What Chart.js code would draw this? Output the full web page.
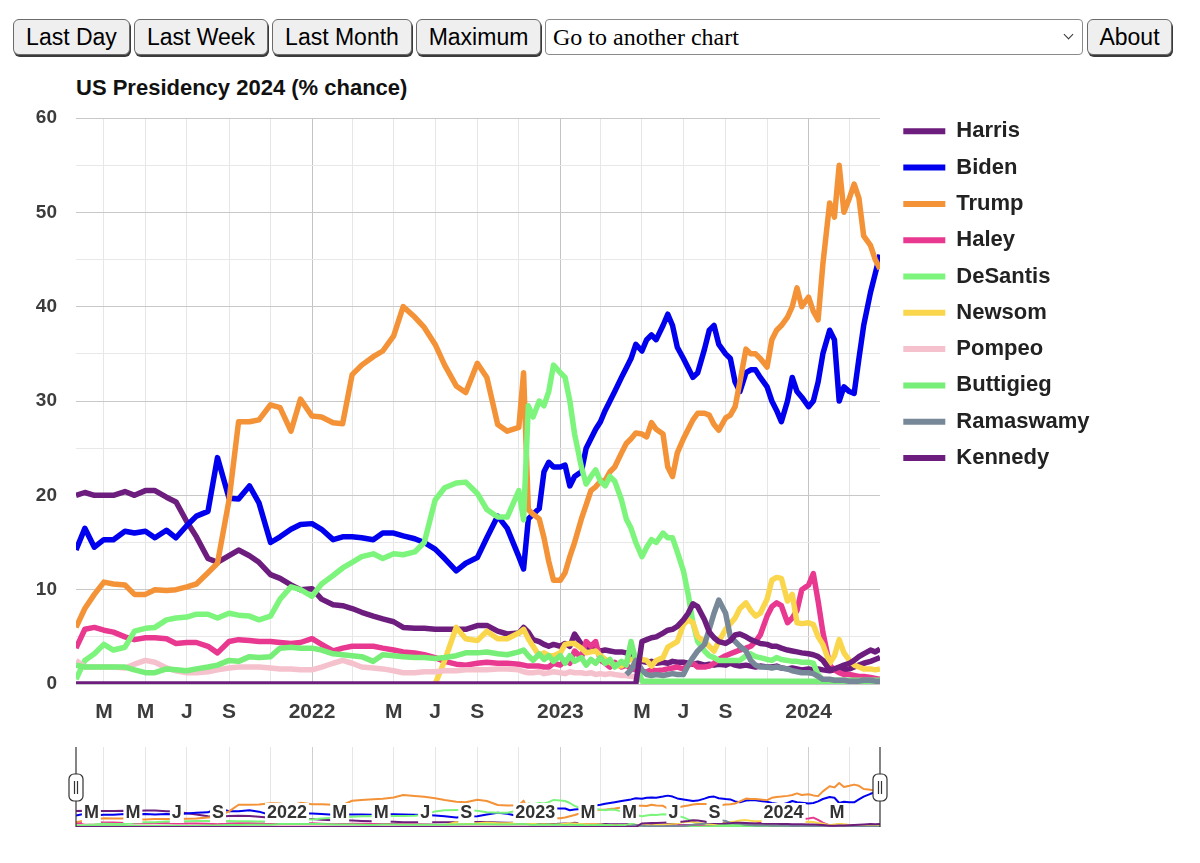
<!DOCTYPE html>
<html lang="en">
<head>
<meta charset="utf-8">
<title>US Presidency 2024 (% chance)</title>
<script src="https://cdn.jsdelivr.net/npm/chart.js@4.4.1/dist/chart.umd.min.js"></script>
<style>
  html, body { margin: 0; padding: 0; background: #fff; }
  body {
    position: relative; width: 1200px; height: 863px; overflow: hidden;
    font-family: "Liberation Sans", Arial, Helvetica, sans-serif;
  }
  .btn {
    position: absolute; top: 19px; height: 36px; box-sizing: border-box;
    background: #efefef; border: 1.5px solid #6b6b6b; border-radius: 6px;
    box-shadow: 1px 2px 0 #3a3a3a;
    font: 23px "Liberation Sans", Arial, sans-serif; color: #000;
    padding: 0; text-align: center; line-height: 32px;
  }
  #picker {
    position: absolute; top: 19px; left: 545px; width: 538px; height: 36px;
    box-sizing: border-box; border: 1px solid #8a8a8a; border-radius: 4px; background: #fff;
  }
  #picker select {
    appearance: none; -webkit-appearance: none; border: 0; background: transparent;
    width: 100%; height: 100%; padding: 0 0 0 7px; margin: 0;
    font: 24px "Liberation Serif", "Times New Roman", serif; color: #000;
  }
  #picker .chev {
    position: absolute; left: 519px; top: 11px; width: 6px; height: 6px;
    border-right: 1.5px solid #333; border-bottom: 1.5px solid #333; transform: rotate(45deg);
  }
  #title {
    position: absolute; left: 76px; top: 75px;
    font-weight: bold; font-size: 22px; color: #111; white-space: nowrap;
  }
  #main { position: absolute; left: 0; top: 100px; }
  #nav { position: absolute; left: 0; top: 745px; }
</style>
</head>
<body>
<button class="btn" style="left:13px;width:117px">Last Day</button>
<button class="btn" style="left:134px;width:134px">Last Week</button>
<button class="btn" style="left:272px;width:140px">Last Month</button>
<button class="btn" style="left:416px;width:125px">Maximum</button>
<div id="picker"><select><option>Go to another chart</option></select><span class="chev"></span></div>
<button class="btn" style="left:1087px;width:85px">About</button>

<div id="title">US Presidency 2024 (% chance)</div>
<canvas id="main" width="1200" height="623"></canvas>
<canvas id="nav" width="1200" height="85"></canvas>

<script>
// sample dates: twice a month until Oct 2022, weekly afterwards
const dates = [
  '2021-01-19',
  '2021-02-01', '2021-02-15', '2021-03-01', '2021-03-15', '2021-04-01', '2021-04-15',
  '2021-05-01', '2021-05-15', '2021-06-01', '2021-06-15', '2021-07-01', '2021-07-15',
  '2021-08-01', '2021-08-15', '2021-09-01', '2021-09-15', '2021-10-01', '2021-10-15',
  '2021-11-01', '2021-11-15', '2021-12-01', '2021-12-15',
  '2022-01-01', '2022-01-15', '2022-02-01', '2022-02-15', '2022-03-01', '2022-03-15',
  '2022-04-01', '2022-04-15', '2022-05-01', '2022-05-15', '2022-06-01', '2022-06-15',
  '2022-07-01', '2022-07-15', '2022-08-01', '2022-08-15', '2022-09-01', '2022-09-15',
  '2022-10-01', '2022-10-15',
  '2022-11-01', '2022-11-08', '2022-11-15', '2022-11-22',
  '2022-12-01', '2022-12-08', '2022-12-15', '2022-12-22',
  '2023-01-01', '2023-01-08', '2023-01-15', '2023-01-22',
  '2023-02-01', '2023-02-08', '2023-02-15', '2023-02-22',
  '2023-03-01', '2023-03-08', '2023-03-15', '2023-03-22',
  '2023-04-01', '2023-04-08', '2023-04-15', '2023-04-22',
  '2023-05-01', '2023-05-08', '2023-05-15', '2023-05-22',
  '2023-06-01', '2023-06-08', '2023-06-15', '2023-06-22',
  '2023-07-01', '2023-07-08', '2023-07-15', '2023-07-22',
  '2023-08-01', '2023-08-08', '2023-08-15', '2023-08-22',
  '2023-09-01', '2023-09-08', '2023-09-15', '2023-09-22',
  '2023-10-01', '2023-10-08', '2023-10-15', '2023-10-22',
  '2023-11-01', '2023-11-08', '2023-11-15', '2023-11-22',
  '2023-12-01', '2023-12-08', '2023-12-15', '2023-12-22',
  '2024-01-01', '2024-01-08', '2024-01-15', '2024-01-22',
  '2024-02-01', '2024-02-08', '2024-02-15', '2024-02-22',
  '2024-03-01', '2024-03-08', '2024-03-15', '2024-03-22',
  '2024-04-01', '2024-04-08', '2024-04-15'
];

const harris = [
  20.0, 20.3, 20.0, 20.0, 20.0, 20.4, 20.0, 20.5, 20.5, 19.8,
  19.3, 17.2, 15.6, 13.3, 12.9, 13.6, 14.2, 13.6, 12.9, 11.6,
  11.2, 10.5, 10.0, 10.1, 9.0, 8.4, 8.3, 8.0, 7.6, 7.2,
  6.9, 6.6, 6.0, 5.9, 5.9, 5.8, 5.8, 5.8, 5.8, 6.2,
  6.2, 5.6, 5.3, 5.4, 6.0, 5.5, 4.7, 4.5, 4.2, 4.0,
  4.2, 4.0, 4.3, 4.0, 5.3, 4.2, 4.0, 3.8, 3.6, 3.5,
  3.6, 3.5, 3.4, 3.4, 3.3, 3.0, 2.6, 2.4, 2.3, 2.4,
  2.2, 2.3, 2.2, 2.4, 2.3, 2.3, 2.2, 2.1, 2.2, 2.0,
  2.1, 2.0, 2.1, 2.0, 2.2, 2.0, 1.9, 2.0, 1.9, 1.8,
  1.9, 1.8, 1.8, 1.9, 1.7, 1.6, 1.7, 1.6, 1.5, 1.6,
  1.5, 1.6, 1.5, 1.4, 1.5, 1.6, 1.5, 1.6, 1.8, 2.0,
  2.2, 2.4, 2.6, 2.8
];
const biden = [
  14.2, 16.5, 14.5, 15.3, 15.3, 16.2, 16.0, 16.2, 15.5, 16.3,
  15.5, 16.8, 17.8, 18.3, 24.0, 19.7, 19.6, 21.0, 19.2, 15.0,
  15.6, 16.4, 16.9, 17.0, 16.4, 15.3, 15.6, 15.6, 15.5, 15.3,
  16.0, 16.0, 15.7, 15.4, 15.0, 14.3, 13.3, 12.0, 12.8, 13.4,
  15.5, 17.8, 16.5, 13.5, 12.2, 17.5, 18.0, 18.6, 22.5, 23.5,
  23.0, 23.0, 23.2, 21.0, 22.0, 22.5, 25.0, 26.0, 27.0, 27.8,
  29.0, 30.0, 31.0, 32.5, 33.5, 34.5, 36.0, 35.3, 36.5, 37.0,
  36.5, 38.0, 39.2, 38.0, 35.7, 34.5, 33.5, 32.5, 33.0, 35.5,
  37.5, 38.0, 36.0, 35.0, 34.5, 32.0, 31.0, 33.0, 33.3, 33.3,
  32.5, 31.5, 30.0, 29.0, 27.8, 30.0, 32.5, 31.0, 30.4, 29.4,
  30.0, 32.0, 35.0, 37.5, 36.5, 30.0, 31.5, 31.0, 30.8, 34.5,
  38.0, 41.5, 43.5, 45.5
];
const trump = [
  6.0, 8.0, 9.5, 10.8, 10.6, 10.5, 9.5, 9.5, 10.0, 9.9,
  10.0, 10.3, 10.6, 11.8, 12.8, 19.5, 27.8, 27.8, 28.0, 29.6,
  29.3, 26.8, 30.2, 28.4, 28.3, 27.7, 27.6, 32.8, 33.8, 34.7,
  35.3, 36.9, 40.0, 38.9, 37.8, 36.0, 33.8, 31.6, 30.9, 34.0,
  32.5, 27.5, 26.8, 27.2, 33.0, 18.5, 18.0, 17.5, 15.5, 13.0,
  11.0, 11.0, 11.8, 13.5, 15.0, 17.5, 19.0, 20.5, 20.9, 21.5,
  21.6, 22.5, 23.0, 24.5, 25.5, 26.0, 26.6, 26.5, 26.2, 27.7,
  27.0, 26.5, 23.0, 22.0, 24.5, 26.0, 27.0, 28.0, 28.7, 28.7,
  28.5, 27.5, 26.9, 28.2, 28.5, 29.4, 32.0, 35.5, 35.0, 35.0,
  34.5, 33.6, 36.5, 37.5, 38.0, 38.9, 40.0, 42.0, 40.0, 41.0,
  39.5, 38.6, 44.5, 51.0, 49.5, 55.0, 50.0, 51.5, 53.0, 51.5,
  47.5, 46.5, 45.0, 44.0
];
const haley = [
  3.8, 5.8, 6.0, 5.7, 5.5, 5.0, 4.7, 4.9, 4.9, 4.8,
  4.3, 4.4, 4.4, 4.0, 3.3, 4.5, 4.7, 4.6, 4.5, 4.5,
  4.4, 4.3, 4.4, 4.8, 4.2, 3.5, 3.8, 4.0, 4.0, 4.0,
  3.8, 3.6, 3.4, 3.3, 3.1, 2.8, 2.4, 2.1, 2.0, 2.2,
  2.3, 2.2, 2.2, 2.1, 2.0, 1.9, 1.9, 1.9, 1.8, 1.8,
  2.2, 2.0, 2.5, 2.2, 3.5, 2.8, 4.5, 4.0, 4.5, 2.5,
  2.2, 1.8, 2.3, 1.8, 2.0, 1.6, 1.5, 1.3, 1.3, 1.5,
  1.4, 1.5, 1.6, 1.7, 1.8, 1.6, 2.0, 2.2, 1.8, 1.8,
  1.9, 2.2, 2.6, 3.0, 3.2, 3.4, 3.6, 3.8, 4.0, 4.5,
  5.2, 7.2, 8.2, 8.6, 8.3, 6.5, 7.0, 7.8, 10.0, 10.5,
  11.7, 8.8, 5.5, 2.0, 1.5, 1.2, 1.0, 1.0, 0.9, 0.8,
  0.8, 0.7, 0.6, 0.5
];
const desantis = [
  0.5, 2.5, 3.2, 4.2, 3.6, 3.9, 5.6, 5.9, 6.0, 6.8,
  7.0, 7.1, 7.4, 7.4, 7.0, 7.5, 7.3, 7.2, 6.8, 7.2,
  9.0, 10.3, 10.0, 9.3, 10.6, 11.5, 12.3, 12.9, 13.5, 13.8,
  13.3, 13.8, 13.7, 14.0, 15.0, 19.5, 20.8, 21.3, 21.4, 20.2,
  18.5, 17.7, 17.7, 20.5, 17.4, 29.5, 28.3, 30.0, 29.5, 31.0,
  33.8, 33.0, 32.5, 30.0, 26.5, 23.0, 21.2, 22.0, 22.7, 21.5,
  21.0, 22.0, 21.5, 19.5, 17.5, 16.5, 15.0, 13.5, 14.5, 15.3,
  15.0, 16.0, 15.5, 15.5, 14.0, 12.0, 9.5, 6.5, 4.5, 3.5,
  3.0, 2.8, 2.5, 2.5, 2.5, 2.5, 2.5, 3.0, 3.2, 2.9,
  2.8, 2.6, 2.5, 2.8, 2.6, 2.5, 2.4, 2.4, 2.3, 2.3,
  2.2, 1.0, 0.4, 0.4, 0.4, 0.4, 0.4, 0.4, 0.4, 0.4,
  0.4, 0.4, 0.4, 0.4
];
// Newsom's market opens in July 2022
const newsomStart = '2022-07-01';
const newsom = [
  0.0, 2.5, 6.0, 4.8, 4.6,
  5.6, 4.8, 4.8, 5.4, 5.8, 4.8, 4.0, 3.0, 3.3, 3.0,
  3.0, 3.3, 4.2, 4.3, 4.3, 3.8, 3.3, 3.4, 3.5, 3.0,
  2.6, 2.3, 2.0, 1.9, 2.4, 2.6, 2.7, 2.6, 2.5, 1.9,
  2.5, 2.8, 3.9, 4.2, 4.5, 6.3, 6.8, 6.5, 5.0, 4.5,
  4.0, 3.5, 4.5, 5.8, 6.4, 7.0, 8.0, 8.6, 7.8, 7.2,
  7.5, 9.0, 11.0, 11.3, 11.2, 8.8, 9.5, 6.5, 6.4, 6.5,
  6.3, 5.0, 4.2, 2.2, 3.0, 4.7, 3.3, 2.5, 2.0, 1.8,
  1.6, 1.6, 1.5, 1.6
];
// Pompeo's line stops in April 2023
const pompeo = [
  2.5, 1.8, 1.8, 1.8, 1.8, 1.7, 2.1, 2.5, 2.3, 1.7,
  1.4, 1.2, 1.2, 1.3, 1.5, 1.7, 1.8, 1.8, 1.8, 1.7,
  1.6, 1.6, 1.5, 1.5, 1.8, 2.2, 2.5, 2.2, 1.8, 1.7,
  1.6, 1.4, 1.2, 1.2, 1.3, 1.3, 1.4, 1.4, 1.5, 1.5,
  1.5, 1.6, 1.6, 1.5, 1.3, 1.2, 1.2, 1.3, 1.1, 1.2,
  1.3, 1.2, 1.1, 1.3, 1.2, 1.2, 1.1, 1.2, 1.0, 1.1,
  1.0, 1.1, 1.0, 0.9, 0.9, 0.8, 0.8
];
const buttigieg = [
  2.0, 1.8, 1.8, 1.8, 1.8, 1.8, 1.5, 1.2, 1.2, 1.6,
  1.5, 1.4, 1.6, 1.8, 2.0, 2.5, 2.4, 2.9, 2.8, 2.9,
  3.8, 3.9, 3.8, 3.8, 3.6, 3.2, 3.1, 3.0, 2.9, 2.4,
  3.1, 3.0, 2.9, 2.8, 2.8, 2.7, 2.8, 3.0, 3.3, 3.3,
  3.4, 3.2, 3.1, 3.4, 3.6, 3.0, 2.5, 3.2, 2.6, 3.0,
  2.4, 3.0, 2.2, 3.0, 2.4, 2.8, 2.0, 2.6, 2.2, 2.8,
  2.2, 2.6, 1.8, 2.4, 2.0, 4.5, 2.5, 0.3, 0.3, 0.3,
  0.3, 0.3, 0.3, 0.3, 0.3, 0.3, 0.3, 0.3, 0.3, 0.3,
  0.3, 0.3, 0.3, 0.3, 0.3, 0.3, 0.3, 0.3, 0.3, 0.3,
  0.3, 0.3, 0.3, 0.3, 0.3, 0.3, 0.3, 0.3, 0.3, 0.3,
  0.3, 0.3, 0.3, 0.3, 0.3, 0.3, 0.3, 0.3, 0.3, 0.3,
  0.3, 0.3, 0.3, 0.3
];
const ramaswamyStart = '2023-04-08';
const ramaswamy = [
  1.0, 1.5, 2.5, 1.5, 1.0, 0.9,
  1.0, 0.9, 1.0, 1.1, 1.0, 1.0, 2.0, 2.8, 3.5, 4.2,
  5.8, 7.5, 8.9, 7.5, 5.0, 4.5, 4.0, 3.5, 2.5, 2.0,
  1.8, 1.8, 1.7, 1.8, 1.7, 1.6, 1.4, 1.3, 1.2, 1.2,
  1.1, 0.8, 0.5, 0.5, 0.4, 0.4, 0.4, 0.3, 0.3, 0.3,
  0.4, 0.4, 0.3, 0.3
];
const kennedy = [
  0, 0, 0, 0, 0, 0, 0, 0, 0, 0,
  0, 0, 0, 0, 0, 0, 0, 0, 0, 0,
  0, 0, 0, 0, 0, 0, 0, 0, 0, 0,
  0, 0, 0, 0, 0, 0, 0, 0, 0, 0,
  0, 0, 0, 0, 0, 0, 0, 0, 0, 0,
  0, 0, 0, 0, 0, 0, 0, 0, 0, 0,
  0, 0, 0, 0, 0, 0, 0, 4.5, 4.7, 4.9,
  5.0, 5.4, 5.7, 5.8, 6.1, 6.8, 7.5, 8.5, 8.2, 6.8,
  5.5, 4.9, 4.5, 4.3, 4.6, 5.2, 5.3, 5.0, 4.7, 4.5,
  4.3, 4.2, 4.0, 4.0, 3.8, 3.6, 3.5, 3.4, 3.3, 3.2,
  3.1, 2.9, 2.5, 1.5, 1.6, 1.8, 2.0, 2.2, 2.5, 2.9,
  3.2, 3.6, 3.4, 3.7
];

const candidates = ['Harris', 'Biden', 'Trump', 'Haley', 'DeSantis', 'Newsom', 'Pompeo', 'Buttigieg', 'Ramaswamy', 'Kennedy'];
const seriesValues = [harris, biden, trump, haley, desantis, newsom, pompeo, buttigieg, ramaswamy, kennedy];
const seriesStarts = [null, null, null, null, null, newsomStart, null, null, ramaswamyStart, null];
const colors = ['#6d1d7d', '#0000ee', '#f39237', '#e8388f', '#7df57d', '#f9d64b', '#f5c1cc', '#77ee77', '#778899', '#6d1d7d'];

// ticks every second month; the main axis leaves some of them unlabelled
const tickDates = ['2021-03-01', '2021-05-01', '2021-07-01', '2021-09-01', '2021-11-01',
  '2022-01-01', '2022-03-01', '2022-05-01', '2022-07-01', '2022-09-01', '2022-11-01',
  '2023-01-01', '2023-03-01', '2023-05-01', '2023-07-01', '2023-09-01', '2023-11-01',
  '2024-01-01', '2024-03-01'];
const tickLabels = ['M', 'M', 'J', 'S', '', '2022', '', 'M', 'J', 'S', '', '2023', '', 'M', 'J', 'S', '', '2024', ''];
const navLabels = ['M', 'M', 'J', 'S', '', '2022', 'M', 'M', 'J', 'S', '', '2023', 'M', 'M', 'J', 'S', '', '2024', 'M'];
const firstDay = '2021-01-19';
const lastDay = '2024-04-15';

const toTime = d => Date.parse(d + 'T00:00:00Z');

function points(values, start) {
  const offset = start ? dates.indexOf(start) : 0;
  return values.map((v, i) => ({ x: toTime(dates[offset + i]), y: v }));
}

function buildDatasets(width) {
  return candidates.map((name, i) => ({
    label: name,
    data: points(seriesValues[i], seriesStarts[i]),
    borderColor: colors[i],
    backgroundColor: colors[i],
    borderWidth: width,
    borderJoinStyle: 'round',
    pointRadius: 0,
    tension: 0,
    order: candidates.length - i   // later candidates drawn on top
  }));
}

const isYearTick = i => (tickLabels[i] || '').length === 4;

const xTicksFromDates = scale => {
  scale.ticks = tickDates.map(d => ({ value: toTime(d) }));
};

Chart.defaults.font.family = '"Liberation Sans", Arial, Helvetica, sans-serif';

// the legend swatches sit a bit right of the plot edge, level with the plot top
const legendNudge = {
  id: 'legendNudge',
  afterLayout(chart) {
    const lg = chart.legend;
    lg.left += 9;
    lg.right = lg.left + 240;
    lg.top -= 1;
    lg.bottom -= 1;
  }
};

new Chart(document.getElementById('main'), {
  type: 'line',
  data: { datasets: buildDatasets(5.5) },
  options: {
    responsive: false,
    animation: false,
    events: [],
    layout: { padding: { top: 7, right: 120, bottom: 0, left: 0 } },
    plugins: {
      tooltip: { enabled: false },
      legend: {
        position: 'right',
        align: 'start',
        maxWidth: 200,
        labels: {
          boxWidth: 42,
          boxHeight: 6,
          padding: 14.3,
          color: '#222',
          font: { size: 22, weight: 'bold' },
          sort: (a, b) => a.datasetIndex - b.datasetIndex,
          generateLabels: chart => Chart.defaults.plugins.legend.labels.generateLabels(chart)
            .map(item => Object.assign(item, { fillStyle: item.strokeStyle, lineWidth: 0 }))
        }
      }
    },
    scales: {
      x: {
        type: 'linear',
        min: toTime(firstDay),
        max: toTime(lastDay),
        afterBuildTicks: xTicksFromDates,
        afterFit: scale => { scale.height = 39; },
        border: { display: false },
        grid: {
          drawTicks: false,
          color: ctx => isYearTick(ctx.index) ? '#c4c4c4' : '#e6e6e6'
        },
        ticks: {
          autoSkip: false,
          maxRotation: 0,
          padding: 16,
          color: '#3c3c3c',
          font: { size: 21, weight: 'bold' },
          callback: (value, i) => tickLabels[i]
        }
      },
      y: {
        min: 0,
        max: 60,
        afterFit: scale => {
          scale.width = 76;
          scale.paddingTop = 18;   // plot top sits 18px below the canvas top
        },
        border: { display: false },
        grid: {
          drawTicks: false,
          color: ctx => ctx.tick.value % 10 === 0 ? '#c8c8c8' : '#e8e8e8'
        },
        ticks: {
          stepSize: 5,
          padding: 19,
          color: '#3c3c3c',
          font: { size: 19, weight: 'bold' },
          callback: v => v % 10 === 0 ? v : ''
        }
      }
    }
  },
  plugins: [legendNudge]
});

// range selector underneath: small copy of every line, labels and two grips
const navOverlay = {
  id: 'navOverlay',
  afterDraw(chart) {
    const { ctx, chartArea, scales: { x } } = chart;
    ctx.save();
    ctx.font = 'bold 18px "Liberation Sans", Arial, sans-serif';
    ctx.textAlign = 'right';
    ctx.textBaseline = 'middle';
    const labelY = 68;
    tickDates.forEach((d, i) => {
      const label = navLabels[i];
      if (!label) return;
      const px = x.getPixelForValue(toTime(d)) - 5;
      const w = ctx.measureText(label).width;
      ctx.fillStyle = '#fff';
      ctx.fillRect(px - w - 2, labelY - 10, w + 4, 20);
      ctx.fillStyle = '#333';
      ctx.fillText(label, px, labelY);
    });

    ctx.strokeStyle = '#333';
    ctx.lineWidth = 1.2;
    [chartArea.left, chartArea.right].forEach(hx => {
      ctx.beginPath();
      ctx.moveTo(hx, chartArea.top);
      ctx.lineTo(hx, chartArea.bottom);
      ctx.stroke();
      ctx.fillStyle = '#fff';
      ctx.beginPath();
      ctx.roundRect(hx - 7, 29, 14, 27, 5);
      ctx.fill();
      ctx.stroke();
      ctx.beginPath();
      ctx.moveTo(hx - 1.5, 36); ctx.lineTo(hx - 1.5, 49);
      ctx.moveTo(hx + 1.5, 36); ctx.lineTo(hx + 1.5, 49);
      ctx.stroke();
    });
    ctx.restore();
  }
};

new Chart(document.getElementById('nav'), {
  type: 'line',
  data: { datasets: buildDatasets(2) },
  options: {
    responsive: false,
    animation: false,
    events: [],
    layout: { padding: { top: 2, right: 320, bottom: 3, left: 76 } },
    plugins: { legend: { display: false }, tooltip: { enabled: false } },
    scales: {
      x: {
        type: 'linear',
        min: toTime(firstDay),
        max: toTime(lastDay),
        afterBuildTicks: xTicksFromDates,
        border: { display: false },
        grid: {
          drawTicks: false,
          color: ctx => isYearTick(ctx.index) ? '#cfcfcf' : '#e6e6e6'
        },
        ticks: { display: false }
      },
      y: { display: false, min: 0, max: 100 }
    }
  },
  plugins: [navOverlay]
});
</script>
</body>
</html>
